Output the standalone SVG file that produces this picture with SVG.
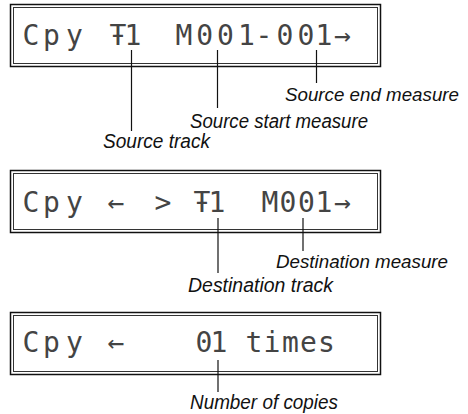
<svg xmlns="http://www.w3.org/2000/svg" width="468" height="414" viewBox="0 0 468 414">
<style>
.outer{fill:#fff;stroke:#111;stroke-width:1.5}
.inner{fill:none;stroke:#333;stroke-width:1}
.lcd{font-family:"DejaVu Sans Mono","Liberation Mono",monospace;font-size:28px;fill:#444;text-anchor:middle;white-space:pre}
.lbl{font-family:"Liberation Sans",Arial,sans-serif;font-style:italic;font-size:20px;fill:#111}
.lead{stroke:#111;stroke-width:1.2;fill:none}
</style>
<rect width="468" height="414" fill="#fff"/>
<g id="display1">
<rect class="outer" x="10.5" y="4.5" width="370" height="62"/>
<rect class="inner" x="13.5" y="7.5" width="364" height="56"/>
<text class="lcd" xml:space="preserve" x="31 51.5 74.5 96 118 133 160 184 204.7 225.5 246.5 264 285 306 324 342.5" y="45">Cpy Ŧ1 M001-001→</text>
</g>
<g id="display2">
<rect class="outer" x="10.5" y="170.5" width="370" height="62"/>
<rect class="inner" x="13.5" y="173.5" width="364" height="56"/>
<text class="lcd" xml:space="preserve" x="31 51.5 74.5 95 116 140 163 183 202 217 245 270 288 306.5 324 342.5" y="212">Cpy ← &gt; Ŧ1 M001→</text>
</g>
<g id="display3">
<rect class="outer" x="10.5" y="312.5" width="370" height="62"/>
<rect class="inner" x="13.5" y="315.5" width="364" height="56"/>
<text class="lcd" xml:space="preserve" x="31 51.5 74.5 95 116 137 158 179 204 219 237 254 272 290.5 308.5 326.5" y="352">Cpy ←   01 times</text>
</g>
<g id="connectors">
<line class="lead" x1="131.5" y1="50" x2="131.5" y2="131"/>
<line class="lead" x1="217.5" y1="50" x2="217.5" y2="108"/>
<line class="lead" x1="316.5" y1="50" x2="316.5" y2="83"/>
<line class="lead" x1="218" y1="218" x2="218" y2="273"/>
<line class="lead" x1="303" y1="218" x2="303" y2="251"/>
<line class="lead" x1="218" y1="360" x2="218" y2="392"/>
</g>
<g id="labels">
<text class="lbl" x="285" y="101" style="font-size:19px" textLength="174" lengthAdjust="spacingAndGlyphs">Source end measure</text>
<text class="lbl" x="190" y="128" textLength="178" lengthAdjust="spacingAndGlyphs">Source start measure</text>
<text class="lbl" x="103" y="148" textLength="107" lengthAdjust="spacingAndGlyphs">Source track</text>
<text class="lbl" x="276" y="268" style="font-size:19px" textLength="172" lengthAdjust="spacingAndGlyphs">Destination measure</text>
<text class="lbl" x="188" y="292" textLength="145" lengthAdjust="spacingAndGlyphs">Destination track</text>
<text class="lbl" x="190" y="409" textLength="148" lengthAdjust="spacingAndGlyphs">Number of copies</text>
</g>
</svg>
